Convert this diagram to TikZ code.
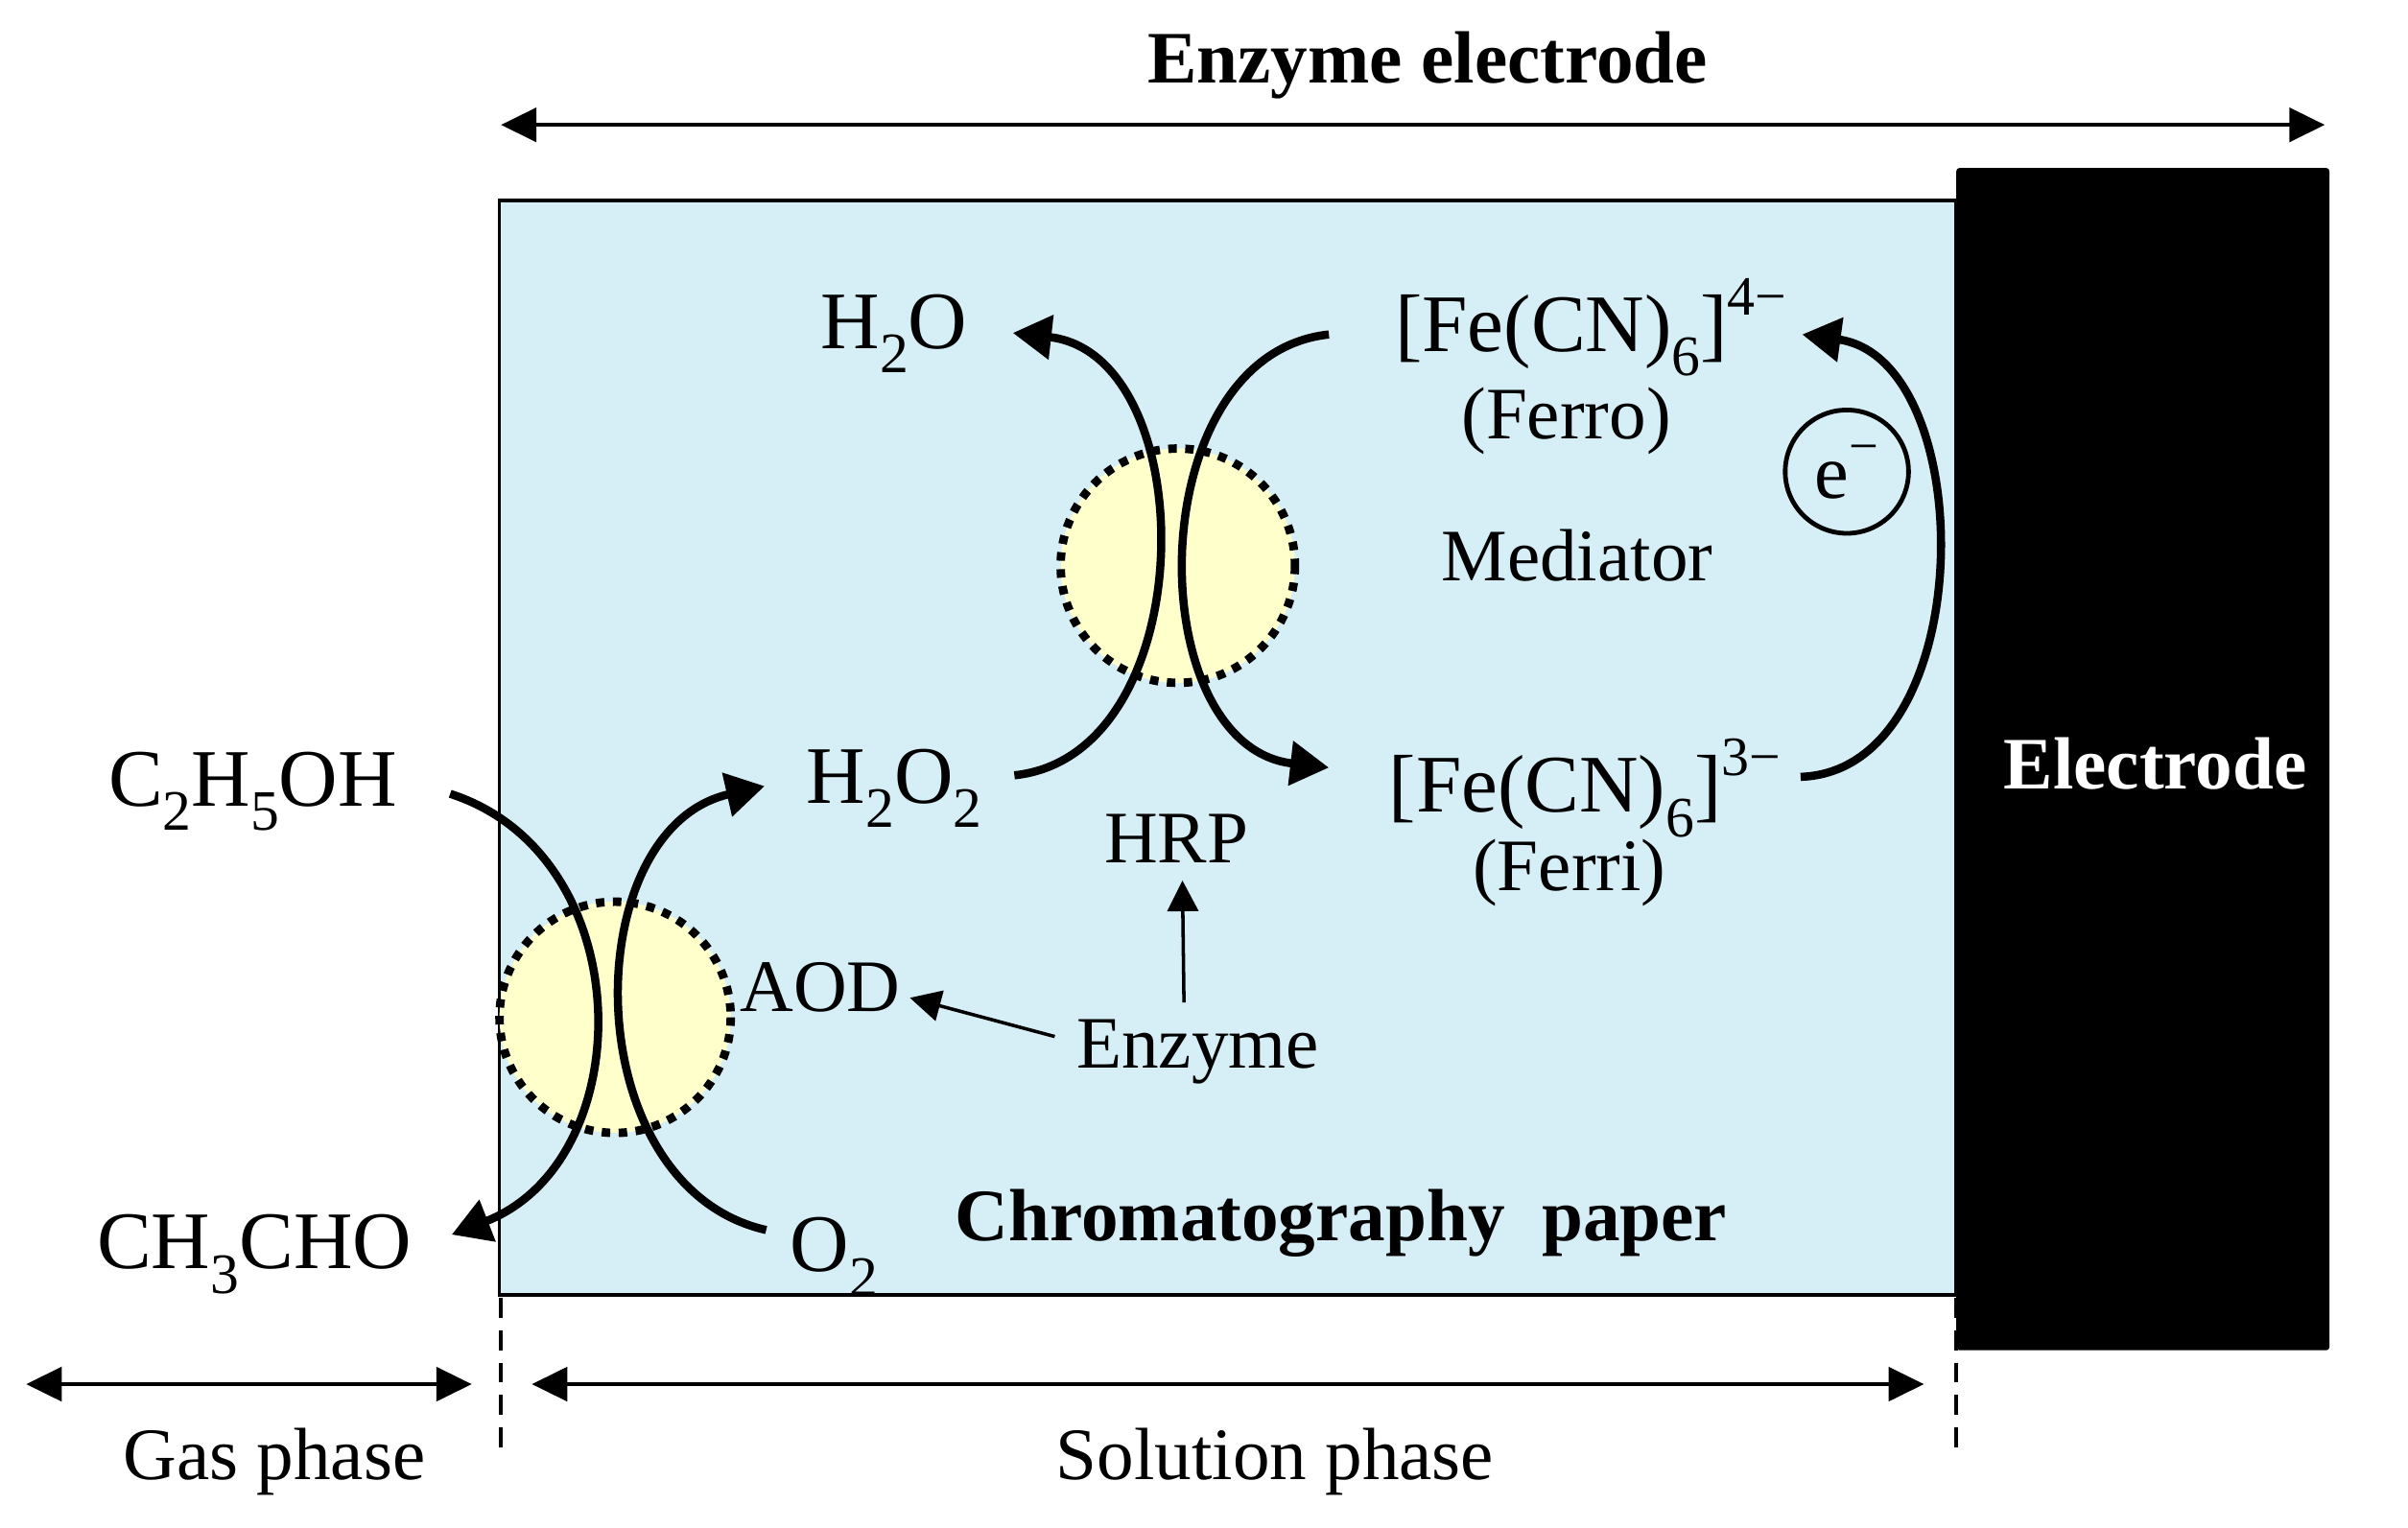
\documentclass[tikz,border=0pt]{standalone}
\usepackage{fontspec}
\setmainfont{Liberation Serif}
\usetikzlibrary{arrows.meta}
\definecolor{paperblue}{RGB}{214,238,245}
\definecolor{enzfill}{RGB}{255,255,204}
\newcommand\dsub[1]{\raisebox{-0.3em}{\scalebox{0.7}{#1}}}
\newcommand\dsup[1]{\raisebox{0.45em}{\scalebox{0.68}{#1}}}
\begin{document}
\begin{tikzpicture}[x=1pt,y=-1pt,
  formula/.style={font=\fontsize{53}{60}\selectfont, inner sep=0pt, anchor=base},
  word/.style={font=\fontsize{48}{56}\selectfont, inner sep=0pt, anchor=base},
  boldlabel/.style={font=\fontsize{48}{56}\selectfont\bfseries, inner sep=0pt, anchor=base},
  reaction/.style={line width=5.3pt, -{Triangle[length=25pt,width=28pt]}},
  span/.style={line width=2.4pt, {Triangle[length=23pt,width=22pt]}-{Triangle[length=23pt,width=22pt]}},
  pointer/.style={line width=2.2pt, -{Triangle[length=20pt,width=20pt]}},
  boundary/.style={line width=2.3pt, dash pattern=on 13pt off 8pt},
  enzymeball/.style={fill=enzfill, line width=5.5pt, dash pattern=on 5.5pt off 5.5pt}
]
\useasboundingbox (0,0) rectangle (1562,991);

% chromatography paper and electrode
\draw[fill=paperblue, line width=2.2pt] (324,130) rectangle (1269,840);
\fill[black, rounded corners=2pt] (1269,109) rectangle (1511,876);

% enzymes
\draw[enzymeball] (399,660) circle (75);
\draw[enzymeball] (764,367) circle (76);

% coordinates of reaction curves
\coordinate (etohS) at (292,515);
\coordinate (acetE) at (293,801);
\coordinate (oxS) at (497,798);
\coordinate (perE) at (496,510);
\coordinate (perS) at (658,503);
\coordinate (watE) at (657,216);
\coordinate (ferroS) at (862,217);
\coordinate (ferriE) at (862,498);
\coordinate (ferriS) at (1168,504);
\coordinate (ferroE) at (1169,217);

\draw[reaction] (etohS) .. controls (416,555) and (416,753) .. (acetE);
\draw[reaction] (oxS) .. controls (373,770) and (373,538) .. (perE);
\draw[reaction] (perS) .. controls (781,490) and (781,230) .. (watE);
\draw[reaction] (ferroS) .. controls (739,230) and (739,484) .. (ferriE);
\draw[reaction] (ferriS) .. controls (1285,500) and (1285,233) .. (ferroE);

% phase boundaries
\coordinate (b1t) at (325,842);
\coordinate (b1b) at (325,943);
\coordinate (b2t) at (1269,842);
\coordinate (b2b) at (1269,943);
\draw[boundary] (b1t) -- (b1b);
\draw[boundary] (b2t) -- (b2b);

% span arrows
\coordinate (eeL) at (325,81);
\coordinate (eeR) at (1508,81);
\coordinate (gasL) at (17,898);
\coordinate (gasR) at (306,898);
\coordinate (solL) at (345,898);
\coordinate (solR) at (1248,898);
\draw[span] (eeL) -- (eeR);
\draw[span] (gasL) -- (gasR);
\draw[span] (solL) -- (solR);

% texts
\node[boldlabel] (title) at (926,54) {Enzyme electrode};
\node[formula] (h2o) at (580,226) {H\dsub{2}O};
\node[formula] (ferro) at (1032,228) {[Fe(CN)\dsub{6}]\dsup{4−}};
\node[word] (ferrolab) at (1016,285) {(Ferro)};
\node[word] (med) at (1023,377) {Mediator};
\node[draw, circle, line width=3pt, minimum size=80pt, inner sep=0pt,
      font=\fontsize{50}{56}\selectfont] (elec) at (1198,306) {e\dsup{−}};
\node[formula] (etoh) at (164,523) {C\dsub{2}H\dsub{5}OH};
\node[formula] (h2o2) at (580,521) {H\dsub{2}O\dsub{2}};
\node[formula] (ferri) at (1028,527) {[Fe(CN)\dsub{6}]\dsup{3−}};
\node[word] (ferrilab) at (1018,578) {(Ferri)};
\node[word] (hrp) at (763,560) {HRP};
\node[word] (aod) at (532,656) {AOD};
\node[word] (enz) at (777,693) {Enzyme};
\node[formula] (acet) at (165,823) {CH\dsub{3}CHO};
\node[formula] (o2) at (541,825) {O\dsub{2}};
\node[boldlabel] (paper) at (870,805) {Chromatography\ \ paper};
\node[boldlabel, text=white] (electrode) at (1398,512) {Electrode};
\node[word] (gas) at (178,960) {Gas phase};
\node[word] (sol) at (827,960) {Solution phase};

% enzyme pointers
\draw[pointer] ([xshift=-14pt,yshift=10pt]enz.west) -- ([xshift=6pt,yshift=-7pt]aod.east);
\draw[pointer] ([xshift=-9pt,yshift=11pt]enz.north) -- ([xshift=4pt,yshift=-11pt]hrp.south);
\end{tikzpicture}
\end{document}
